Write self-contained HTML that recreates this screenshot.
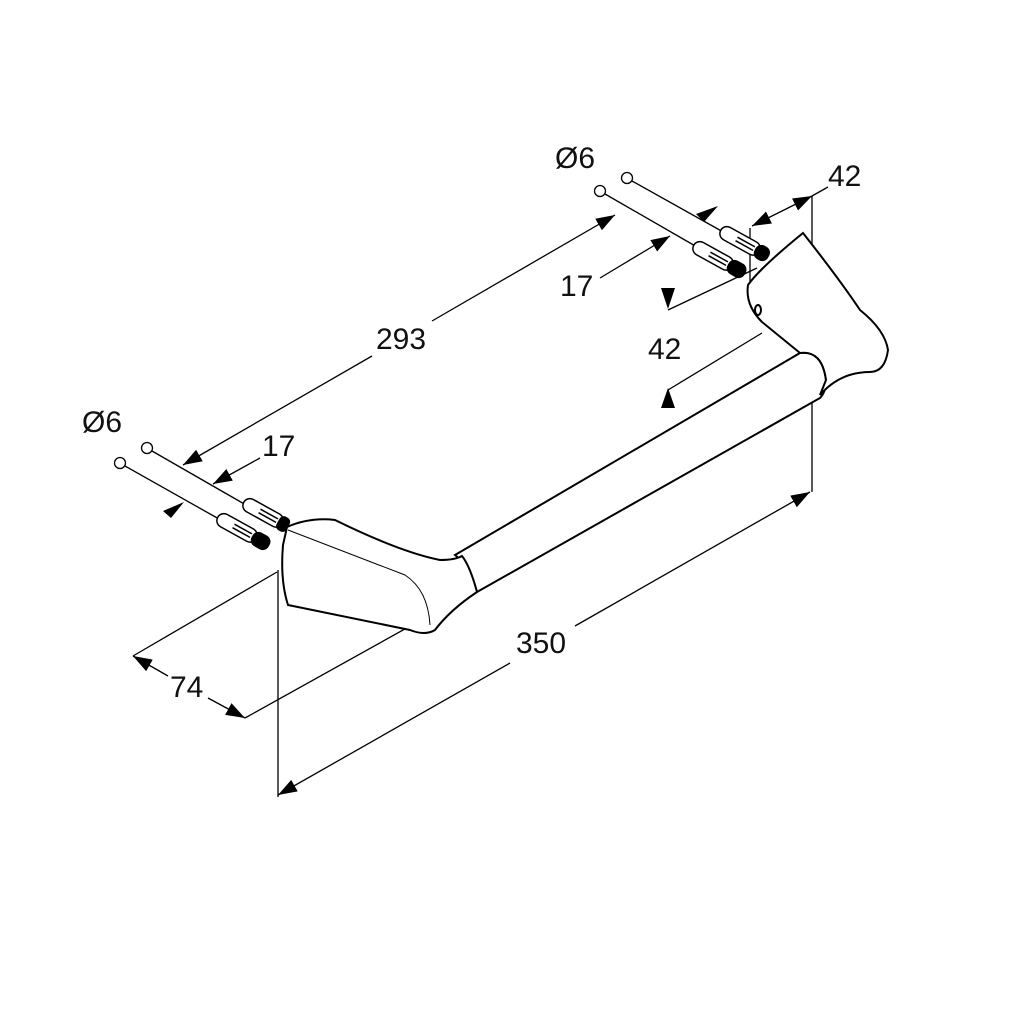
<!DOCTYPE html>
<html><head><meta charset="utf-8"><style>
html,body{margin:0;padding:0;background:#fff}
svg{display:block}
text{font-family:"Liberation Sans",sans-serif;font-size:30px;fill:#111}
</style></head><body>
<svg width="1030" height="1030" viewBox="0 0 1030 1030" xmlns="http://www.w3.org/2000/svg">
<defs>
<marker id="a" viewBox="0 0 10 10" refX="10" refY="5" markerWidth="19" markerHeight="19" markerUnits="userSpaceOnUse" orient="auto-start-reverse"><path d="M0,1.5 L10,5 L0,8.5z" fill="#000"/></marker>
</defs>
<g fill="none" stroke="#000" stroke-width="1.3">
<!-- dimension lines -->
<line x1="183" y1="465" x2="372" y2="356" marker-start="url(#a)"/>
<line x1="432" y1="321" x2="615" y2="215" marker-end="url(#a)"/>
<line x1="278" y1="795" x2="510" y2="663" marker-start="url(#a)"/>
<line x1="575" y1="626" x2="810" y2="492" marker-end="url(#a)"/>
<line x1="278" y1="570" x2="278" y2="797"/>
<line x1="812" y1="196" x2="812" y2="492"/>
<line x1="133" y1="656" x2="168" y2="676" marker-start="url(#a)"/>
<line x1="208" y1="698" x2="245" y2="718" marker-end="url(#a)"/>
<line x1="133" y1="656" x2="277" y2="572"/>
<line x1="245" y1="718" x2="430" y2="615"/>
<line x1="752" y1="226" x2="812" y2="196" marker-start="url(#a)" marker-end="url(#a)"/>
<line x1="812" y1="196" x2="828" y2="187"/>
<line x1="750" y1="228" x2="750" y2="290"/>
<line x1="213" y1="484" x2="260" y2="458" marker-start="url(#a)"/>
<line x1="600" y1="278" x2="670" y2="236" marker-end="url(#a)"/>
<line x1="668" y1="310" x2="757" y2="268"/>
<line x1="668" y1="390" x2="762" y2="333"/>
<path d="M661,288 L675,288 L668,309z" fill="#000" stroke="none"/>
<path d="M661,408 L675,408 L668,388z" fill="#000" stroke="none"/>
<path d="M696,214 L718,206 L704,222z" fill="#000" stroke="none"/>
<path d="M163,511 L184,502 L171,518z" fill="#000" stroke="none"/>
<!-- screw lines -->
<circle cx="627" cy="178" r="5.5"/>
<circle cx="600" cy="191" r="5.5"/>
<circle cx="147" cy="448" r="5.5"/>
<circle cx="120" cy="463" r="5.5"/>
<line x1="632" y1="181" x2="725" y2="233"/>
<line x1="605" y1="194" x2="697" y2="247"/>
<line x1="152" y1="451" x2="246" y2="505"/>
<line x1="125" y1="466" x2="219" y2="519"/>
</g>
<!-- dowels -->
<g stroke="#000" stroke-width="1.5" fill="#fff">
<g transform="translate(733,237) rotate(29)"><rect x="-14" y="-7" width="44" height="14" rx="7"/><line x1="4" y1="-2" x2="24" y2="-2"/><line x1="4" y1="2" x2="24" y2="2"/><rect x="26" y="-7" width="14" height="14" rx="6" fill="#000"/></g>
<g transform="translate(706,252) rotate(29)"><rect x="-14" y="-7" width="44" height="14" rx="7"/><line x1="4" y1="-2" x2="24" y2="-2"/><line x1="4" y1="2" x2="24" y2="2"/><rect x="26" y="-7" width="18" height="14" rx="6" fill="#000"/></g>
<g transform="translate(256,509) rotate(29)"><rect x="-14" y="-7" width="44" height="14" rx="7"/><line x1="4" y1="-2" x2="24" y2="-2"/><line x1="4" y1="2" x2="24" y2="2"/><rect x="26" y="-7" width="10" height="14" rx="4" fill="#000"/></g>
<g transform="translate(230,524) rotate(29)"><rect x="-14" y="-7" width="44" height="14" rx="7"/><line x1="4" y1="-2" x2="24" y2="-2"/><line x1="4" y1="2" x2="24" y2="2"/><rect x="26" y="-7" width="18" height="14" rx="6" fill="#000"/></g>
</g>
<g fill="#fff" stroke="#000" stroke-width="2">
<!-- bar -->
<path d="M455,555 L800,353 Q822,350 826,380 Q826,392 820,398 L477,592 Q470,566 455,555z"/>
<!-- right bracket -->
<path d="M803,233 Q840,280 860,310 Q885,330 888,350 Q885,372 870,372 Q840,372 820,395 L826,380 Q822,350 800,353 L762,322 Q745,305 748,285 Q760,268 803,233z"/>
<ellipse cx="758" cy="310" rx="3" ry="5" fill="none"/>
<!-- left bracket -->
<path d="M287,527 Q310,517 335,520 Q400,552 440,560 Q455,560 462,556 Q470,566 477,592 Q450,610 435,630 Q425,636 410,630 L288,605 Q280,580 283,545z"/>
<path d="M288,530 L405,575 Q428,590 430,625" fill="none" stroke-width="1"/>
</g>
<text x="555" y="168">Ø6</text>
<text x="82" y="432">Ø6</text>
<text x="828" y="186">42</text>
<text x="560" y="296">17</text>
<text x="262" y="456">17</text>
<text x="376" y="349">293</text>
<text x="648" y="359">42</text>
<text x="516" y="653">350</text>
<text x="170" y="697">74</text>
</svg>
</body></html>
